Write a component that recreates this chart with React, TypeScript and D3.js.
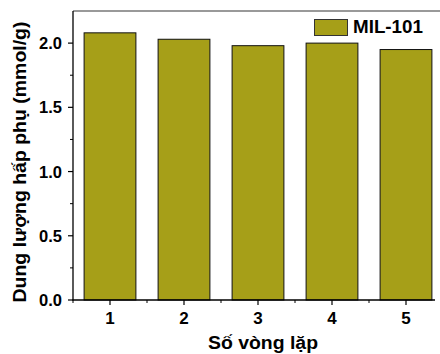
import React from "react";
import * as d3 from "d3";

const categories = [1, 2, 3, 4, 5];
const values = [2.08, 2.03, 1.98, 2.0, 1.95];
const yTicks = [0, 0.5, 1.0, 1.5, 2.0];
const yMinor = [0.25, 0.75, 1.25, 1.75];
const xMinor = [0.5, 1.5, 2.5, 3.5, 4.5];
const seriesName = "MIL-101";

export default function App() {
  const W = 440, H = 354;
  const left = 73, top = 11, bottom = 300;
  const x = d3.scaleLinear().domain([0.5, 5.5]).range([left, 443]);
  const y = d3.scaleLinear().domain([0, 2.25]).range([bottom, top]);
  const bw = x(1.35) - x(0.65);
  const fill = "#a69f18";
  const font = "'Liberation Sans', Arial, sans-serif";
  return (
    <svg width={W} height={H} style={{ position: "absolute", left: 0, top: 0, background: "#fff" }}>
      <line x1={left} x2={440} y1={top} y2={top} stroke="#777" strokeWidth={1.5} />
      {categories.map((c, i) => (
        <rect key={c} x={x(c) - bw / 2} y={y(values[i])} width={bw} height={y(0) - y(values[i])}
          fill={fill} stroke="#111" strokeWidth={1} />
      ))}
      <line x1={left} x2={left} y1={top} y2={bottom + 0.5} stroke="#000" strokeWidth={1.3} />
      <line x1={left - 0.5} x2={435} y1={bottom} y2={bottom} stroke="#000" strokeWidth={1.3} />
      {yTicks.map((t) => (
        <g key={t}>
          <line x1={left - 5} x2={left} y1={y(t)} y2={y(t)} stroke="#000" strokeWidth={1.2} />
          <text x={62} y={y(t)} dy="0.36em" textAnchor="end" fontFamily={font} fontWeight="bold" fontSize={17}
            textLength={23} lengthAdjust="spacingAndGlyphs">
            {t.toFixed(1)}
          </text>
        </g>
      ))}
      {yMinor.map((t) => (
        <line key={t} x1={left - 3} x2={left} y1={y(t)} y2={y(t)} stroke="#000" strokeWidth={1} />
      ))}
      {categories.map((c) => (
        <g key={c}>
          <line x1={x(c)} x2={x(c)} y1={bottom} y2={bottom + 5} stroke="#000" strokeWidth={1.2} />
          <text x={x(c)} y={324} textAnchor="middle" fontFamily={font} fontWeight="bold" fontSize={17}>
            {c}
          </text>
        </g>
      ))}
      {xMinor.map((t) => (
        <line key={t} x1={x(t)} x2={x(t)} y1={bottom} y2={bottom + 3} stroke="#000" strokeWidth={1} />
      ))}
      <text x={263} y={349} textAnchor="middle" fontFamily={font} fontWeight="bold" fontSize={18}
        textLength={110} lengthAdjust="spacingAndGlyphs">Số vòng lặp</text>
      <text transform="translate(26,162) rotate(-90)" textAnchor="middle" fontFamily={font} fontWeight="bold"
        fontSize={18} textLength={281} lengthAdjust="spacingAndGlyphs">Dung lượng hấp phụ (mmol/g)</text>
      <rect x={314.5} y={19.5} width={33} height={16} fill={fill} stroke="#333" strokeWidth={1} />
      <text x={353} y={33} fontFamily={font} fontWeight="bold" fontSize={18}
        textLength={70} lengthAdjust="spacingAndGlyphs">{seriesName}</text>
    </svg>
  );
}
